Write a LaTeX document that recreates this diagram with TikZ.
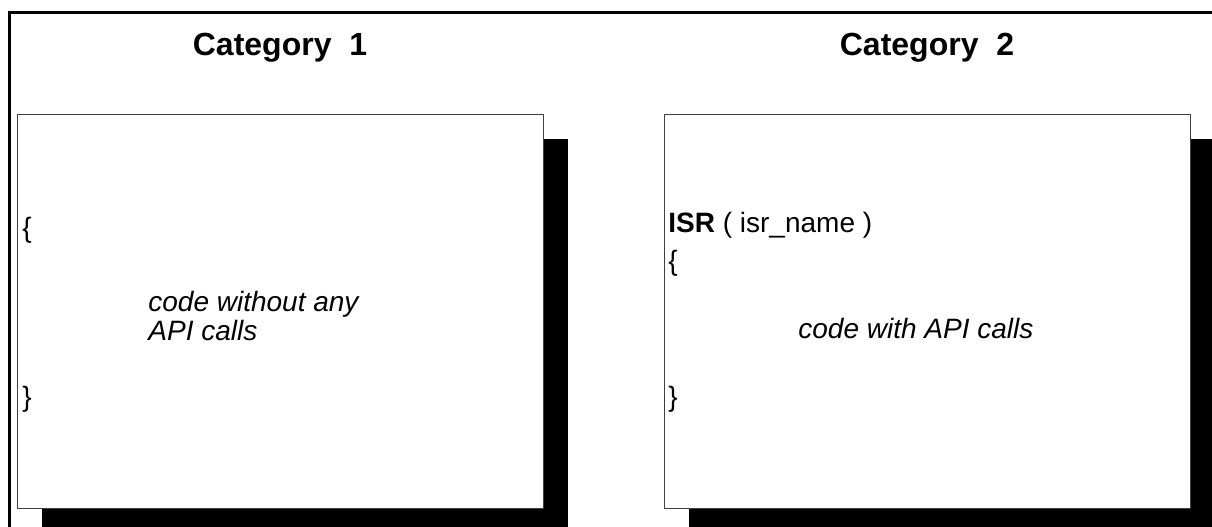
\documentclass[tikz,border=0pt]{standalone}
\usepackage{fontspec}
\setmainfont{Liberation Sans}
\usetikzlibrary{positioning}

\begin{document}
\begin{tikzpicture}[x=0.5pt, y=-0.5pt,
  title/.style={font=\fontsize{16}{19}\selectfont\bfseries, anchor=base, inner sep=0pt},
  code/.style={font=\fontsize{14}{17}\selectfont, anchor=base west, inner sep=0pt},
  body/.style={font=\fontsize{14}{17}\selectfont\itshape, anchor=base west, inner sep=0pt},
  box/.style={draw=black!75, line width=0.5pt, fill=white},
  shadow/.style={fill=black}]
\useasboundingbox (0,0) rectangle (1212,526);
\clip (0,0) rectangle (1212,526);

% outer frame
\draw[line width=1.5pt] (9.5,560) -- (9.5,12) -- (1240,12);

% category 1
\fill[shadow] (42,139) rectangle (568,533);
\draw[box] (17,114) rectangle (543,508);
\node[title] (T1) at (280,55) {Category~~1};
\node[code] (open1) at (22,237) {\{};
\node[body] (text1a) at (148,311) {code without any};
\node[body] (text1b) at (148,340) {API calls};
\node[code] (close1) at (22,406) {\}};

% category 2
\fill[shadow] (689,139) rectangle (1215,533);
\draw[box] (664,114) rectangle (1190,508);
\node[title] (T2) at (927,55) {Category~~2};
\node[code] (isr) at (668,232) {\textbf{ISR} ( isr\_name )};
\node[code] (open2) at (668,270) {\{};
\node[body] (text2) at (798,338) {code with API calls};
\node[code] (close2) at (668,406) {\}};
\end{tikzpicture}
\end{document}
